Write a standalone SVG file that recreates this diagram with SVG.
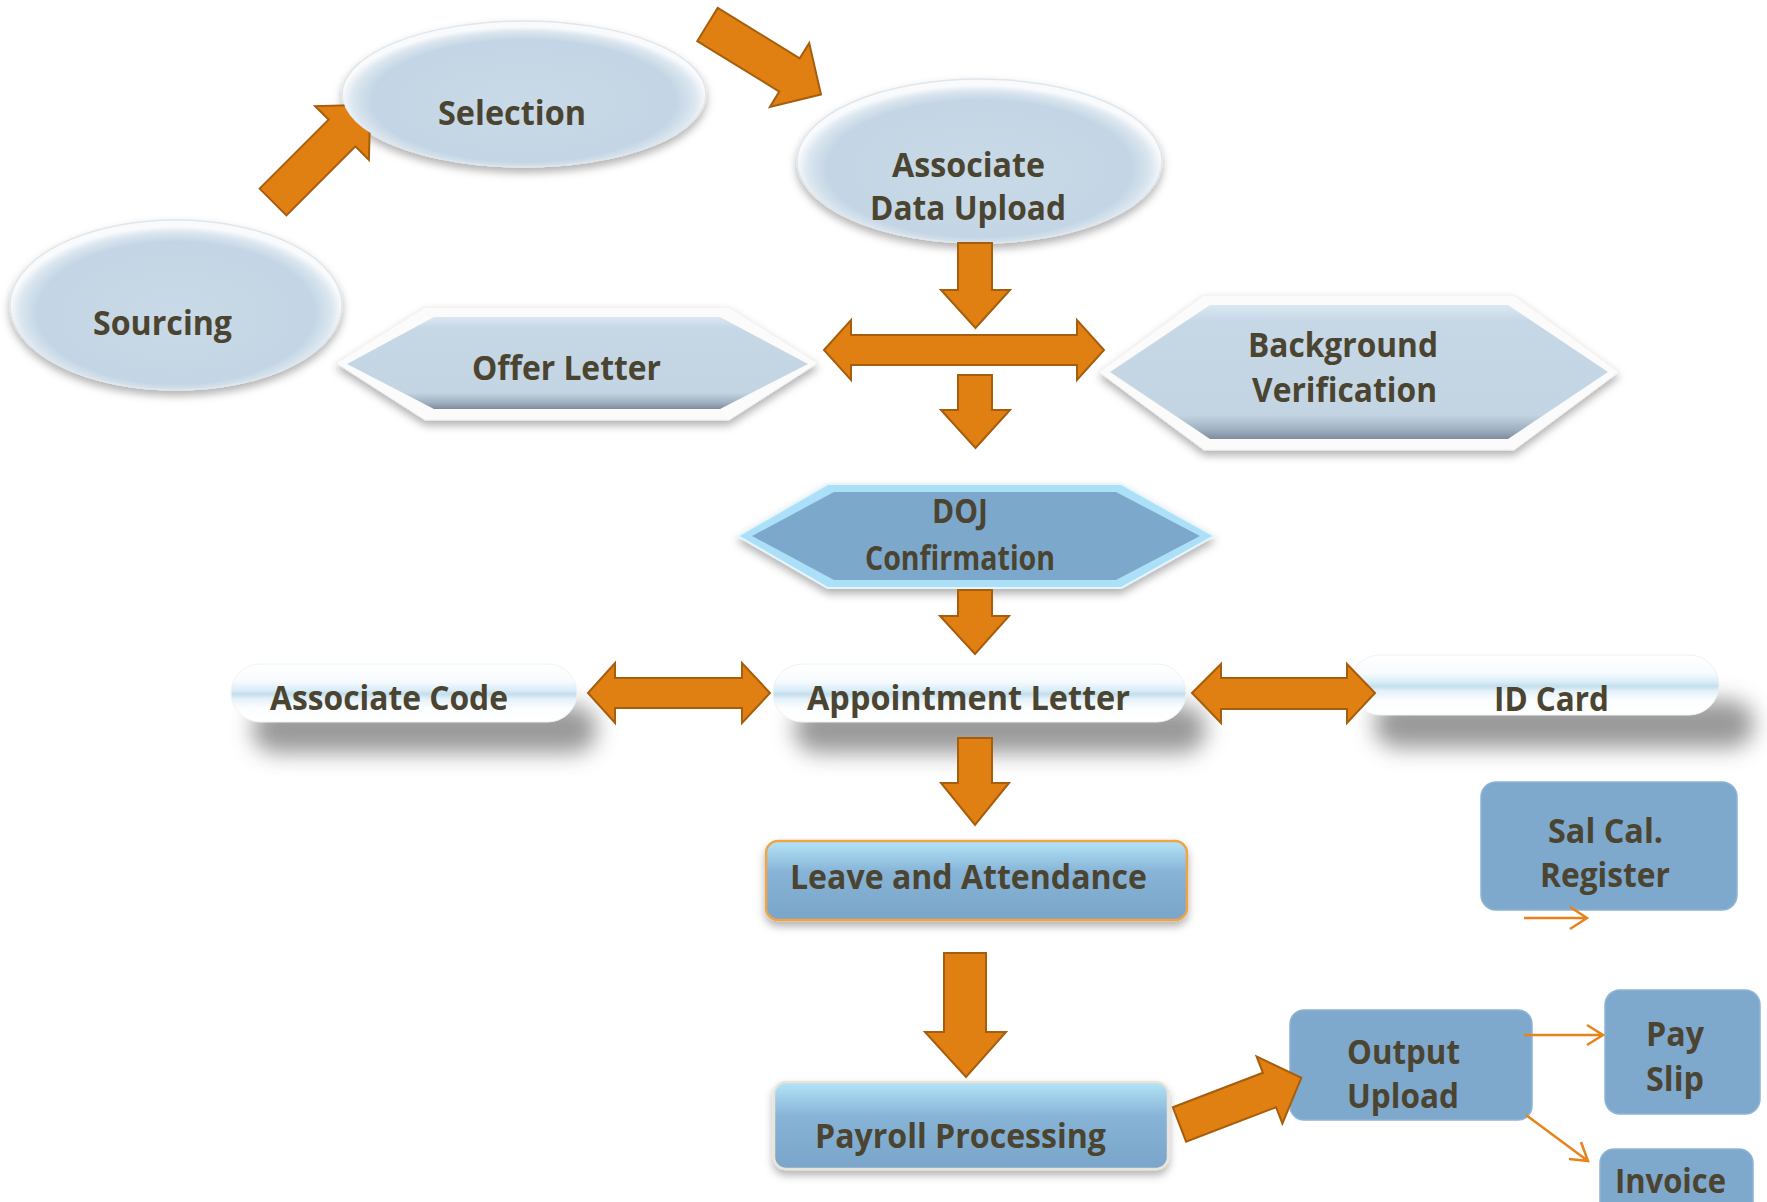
<svg xmlns="http://www.w3.org/2000/svg" width="1767" height="1202" viewBox="0 0 1767 1202">
<defs>
<style>
.t{font-family:"Open Sans","DejaVu Sans",sans-serif;font-weight:700;font-size:34px;fill:#4b4431;}
.blk{fill:#e07f12;stroke:#a65d0c;stroke-width:2;stroke-linejoin:miter;}
.thin{fill:none;stroke:#e8831c;stroke-width:2.5;}
.box{fill:#7ea8cc;stroke:#8cb4d6;stroke-width:1.5;}
.ell{fill:url(#eg);stroke:#dfe6ec;stroke-width:1.5;}
</style>
<radialGradient id="eg" cx="50%" cy="54%" r="50%" fx="50%" fy="58%">
<stop offset="0" stop-color="#c8d9e7"/>
<stop offset="0.84" stop-color="#c4d6e5"/>
<stop offset="0.94" stop-color="#dbe6ef"/>
<stop offset="1" stop-color="#f8fafc"/>
</radialGradient>
<linearGradient id="hg" x1="0" y1="0" x2="0" y2="1">
<stop offset="0" stop-color="#dbe8f3"/>
<stop offset="0.12" stop-color="#c6d7e6"/>
<stop offset="0.82" stop-color="#c3d4e3"/>
<stop offset="0.93" stop-color="#9fb0c0"/>
<stop offset="1" stop-color="#7d8d9d"/>
</linearGradient>
<linearGradient id="pg" x1="0" y1="0" x2="0" y2="1">
<stop offset="0" stop-color="#ffffff"/>
<stop offset="0.3" stop-color="#f7fbfd"/>
<stop offset="0.45" stop-color="#d9edf8"/>
<stop offset="0.52" stop-color="#c4deec"/>
<stop offset="0.6" stop-color="#e3f1f9"/>
<stop offset="0.75" stop-color="#fbfdfe"/>
<stop offset="1" stop-color="#ffffff"/>
</linearGradient>
<linearGradient id="bg" x1="0" y1="0" x2="0" y2="1">
<stop offset="0" stop-color="#b4e4f8"/>
<stop offset="0.4" stop-color="#86b3d6"/>
<stop offset="1" stop-color="#7aa5ca"/>
</linearGradient>
<filter id="sh" x="-10%" y="-20%" width="120%" height="150%">
<feDropShadow dx="0" dy="5" stdDeviation="4" flood-color="#000" flood-opacity="0.3"/>
</filter>
<filter id="blur" x="-20%" y="-60%" width="140%" height="220%">
<feGaussianBlur stdDeviation="11"/>
</filter>
<clipPath id="noSel">
<path clip-rule="evenodd" d="M0,0 H1767 V1202 H0 Z M342,94 a182,73 0 1,0 364,0 a182,73 0 1,0 -364,0 Z"/>
</clipPath>
</defs>
<rect width="1767" height="1202" fill="#ffffff"/>

<g id="sourcing">
<ellipse cx="176" cy="305" rx="166" ry="85" class="ell" filter="url(#sh)"/>
<text class="t" x="93" y="335" textLength="139" lengthAdjust="spacingAndGlyphs">Sourcing</text>
</g>
<g id="selection">
<ellipse cx="524" cy="94" rx="182" ry="73" class="ell" filter="url(#sh)"/>
<text class="t" x="438" y="125" textLength="148" lengthAdjust="spacingAndGlyphs">Selection</text>
</g>
<g id="associate-data-upload">
<ellipse cx="979.5" cy="161" rx="182.5" ry="82" class="ell" filter="url(#sh)"/>
<text class="t" x="892" y="177" textLength="153" lengthAdjust="spacingAndGlyphs">Associate</text>
<text class="t" x="870" y="220" textLength="196" lengthAdjust="spacingAndGlyphs">Data Upload</text>
</g>
<g id="offer-letter">
<polygon points="336,363 425,307 729,307 818,363 729,420 425,420" fill="#fbfbfb" stroke="#eeeeee" stroke-width="1" filter="url(#sh)"/>
<polygon points="347,364 434,317 720,317 808,364 720,409 434,409" fill="url(#hg)"/>
<text class="t" x="472" y="380" textLength="189" lengthAdjust="spacingAndGlyphs">Offer Letter</text>
</g>
<g id="background-verification">
<polygon points="1099,372 1204,295 1514,295 1619,372 1514,450 1204,450" fill="#fbfbfb" stroke="#eeeeee" stroke-width="1" filter="url(#sh)"/>
<polygon points="1110,372 1210,305 1508,305 1608,372 1508,439 1210,439" fill="url(#hg)"/>
<text class="t" x="1248" y="357" textLength="190" lengthAdjust="spacingAndGlyphs">Background</text>
<text class="t" x="1252" y="402" textLength="185" lengthAdjust="spacingAndGlyphs">Verification</text>
</g>
<g id="doj-confirmation">
<polygon points="738,536 828,484 1121,484 1214,536 1121,588 828,588" fill="#ace0f8" stroke="#e4f5fc" stroke-width="2" filter="url(#sh)"/>
<polygon points="752,536 834,492 1116,492 1200,536 1116,580 834,580" fill="#7ca8cc"/>
<text class="t" x="932" y="523" font-size="30" textLength="56" lengthAdjust="spacingAndGlyphs">DOJ</text>
<text class="t" x="865" y="570" font-size="31" textLength="190" lengthAdjust="spacingAndGlyphs">Confirmation</text>
</g>
<g id="associate-code">
<rect x="252" y="705" width="345" height="48" rx="24" fill="#808080" opacity="0.8" filter="url(#blur)"/>
<rect x="231" y="664" width="346" height="58" rx="29" fill="url(#pg)" stroke="#eef2f5" stroke-width="1"/>
<text class="t" x="270" y="710" font-size="33" textLength="238" lengthAdjust="spacingAndGlyphs">Associate Code</text>
</g>
<g id="appointment-letter">
<rect x="794" y="705" width="412" height="48" rx="24" fill="#808080" opacity="0.8" filter="url(#blur)"/>
<rect x="773" y="664" width="413" height="58" rx="29" fill="url(#pg)" stroke="#eef2f5" stroke-width="1"/>
<text class="t" x="807" y="710" font-size="33" textLength="323" lengthAdjust="spacingAndGlyphs">Appointment Letter</text>
</g>
<g id="id-card">
<rect x="1374" y="700" width="380" height="48" rx="24" fill="#808080" opacity="0.8" filter="url(#blur)"/>
<rect x="1350" y="655" width="369" height="60" rx="30" fill="url(#pg)" stroke="#eef2f5" stroke-width="1"/>
<text class="t" x="1494" y="711" font-size="33" textLength="115" lengthAdjust="spacingAndGlyphs">ID Card</text>
</g>
<g id="leave-attendance">
<rect x="766" y="841" width="421" height="79" rx="12" fill="url(#bg)" stroke="#eea447" stroke-width="2.5" filter="url(#sh)"/>
<text class="t" x="790" y="889" textLength="357" lengthAdjust="spacingAndGlyphs">Leave and Attendance</text>
</g>
<g id="payroll-processing">
<rect x="774" y="1082" width="394" height="87" rx="12" fill="url(#bg)" stroke="#e9e4d8" stroke-width="2.5" filter="url(#sh)"/>
<text class="t" x="815" y="1148" textLength="291" lengthAdjust="spacingAndGlyphs">Payroll Processing</text>
</g>
<g id="sal-cal-register">
<rect x="1481" y="782" width="256" height="128" rx="15" class="box"/>
<text class="t" x="1548" y="843" textLength="115" lengthAdjust="spacingAndGlyphs">Sal Cal.</text>
<text class="t" x="1540" y="887" textLength="130" lengthAdjust="spacingAndGlyphs">Register</text>
</g>
<g id="output-upload">
<rect x="1290" y="1010" width="242" height="110" rx="14" class="box"/>
<text class="t" x="1347" y="1064" textLength="113" lengthAdjust="spacingAndGlyphs">Output</text>
<text class="t" x="1347" y="1108" textLength="112" lengthAdjust="spacingAndGlyphs">Upload</text>
</g>
<g id="pay-slip">
<rect x="1605" y="990" width="155" height="124" rx="15" class="box"/>
<text class="t" x="1646" y="1046" textLength="58" lengthAdjust="spacingAndGlyphs">Pay</text>
<text class="t" x="1646" y="1091" textLength="58" lengthAdjust="spacingAndGlyphs">Slip</text>
</g>
<g id="invoice">
<rect x="1600" y="1149" width="153" height="70" rx="14" class="box"/>
<text class="t" x="1615" y="1193" textLength="111" lengthAdjust="spacingAndGlyphs">Invoice</text>
</g>

<g id="connectors">
<polygon class="blk" clip-path="url(#noSel)" points="259.6,188.6 328.6,119.6 315.1,106.1 370.3,104.7 368.9,159.9 355.4,146.4 286.4,215.4"/>
<polygon class="blk" points="717.7,7.9 799.7,58.4 809.2,43.1 821,94.4 769.9,106.9 779.3,91.6 697.3,41.1"/>
<polygon class="blk" points="958,243 992,243 992,290 1010,290 975.5,328 941,290 958,290"/>
<polygon class="blk" points="824,350 851,320 851,335 1077,335 1077,320 1104,350 1077,380 1077,365 851,365 851,380"/>
<polygon class="blk" points="958,375 992,375 992,410 1010,410 975.5,448 941,410 958,410"/>
<polygon class="blk" points="958,590 992,590 992,616 1009,616 975,654 940,616 958,616"/>
<polygon class="blk" points="588,693 615,663 615,678 742,678 742,663 770,693 742,723 742,708 615,708 615,723"/>
<polygon class="blk" points="1192,693 1221,664 1221,678 1347,678 1347,664 1375,693 1347,723 1347,709 1221,709 1221,723"/>
<polygon class="blk" points="958,738 992,738 992,783 1009,783 975,825 941,783 958,783"/>
<polygon class="blk" points="944,953 986,953 986,1032 1006,1032 966,1077 925,1032 944,1032"/>
<polygon class="blk" points="1172.9,1107.3 1262.9,1072.8 1256.6,1056.4 1301.3,1077.8 1282.4,1123.6 1276.1,1107.2 1186.1,1141.7"/>
<path class="thin" d="M1524,918 H1587 M1570,907 L1587,918 L1570,929"/>
<path class="thin" d="M1524,1035 H1603 M1587,1025 L1603,1035 L1587,1045"/>
<path class="thin" d="M1526,1115 L1588,1161 M1581,1142 L1588,1161 L1569,1159"/>
</g>
</svg>
